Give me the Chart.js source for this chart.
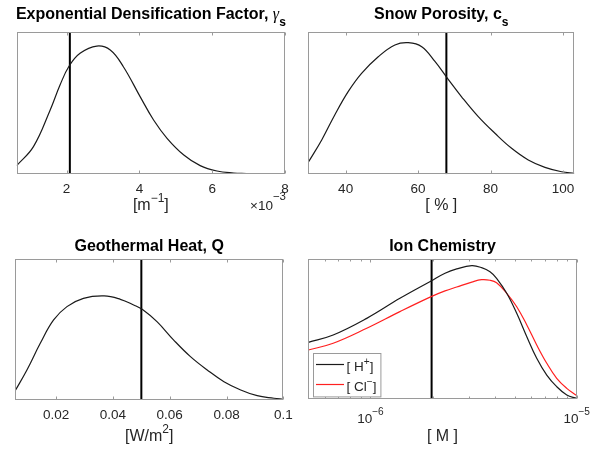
<!DOCTYPE html>
<html><head><meta charset="utf-8">
<script src="https://cdn.jsdelivr.net/npm/chart.js@4.4.1/dist/chart.umd.min.js"></script>
<style>
html,body{margin:0;padding:0;background:#fff;}
#wrap{position:relative;width:591px;height:453px;overflow:hidden;background:#fff;}
canvas{position:absolute;}
</style></head><body>
<div id="wrap">
<canvas id="cA" width="295" height="226" style="left:0px;top:0px;width:295px;height:226px"></canvas>
<canvas id="cB" width="296" height="226" style="left:295px;top:0px;width:296px;height:226px"></canvas>
<canvas id="cC" width="295" height="227" style="left:0px;top:226px;width:295px;height:227px"></canvas>
<canvas id="cD" width="296" height="227" style="left:295px;top:226px;width:296px;height:227px"></canvas>
</div>
<script>
// ---------- data ----------
// Exponential densification factor [m^-1]
const gammaX = [0.00063, 0.00109, 0.00155, 0.00182, 0.00207, 0.00237, 0.00283, 0.00320, 0.00356, 0.00402, 0.00439, 0.00476, 0.00522, 0.00567, 0.00613, 0.00659, 0.00694];
const gammaY = [0.059, 0.193, 0.452, 0.628, 0.762, 0.852, 0.903, 0.875, 0.757, 0.546, 0.381, 0.252, 0.134, 0.059, 0.021, 0.007, 0.003];
const gammaTrue = 0.00209;
const gammaTicks = [0.002, 0.004, 0.006, 0.008];
const gammaTickLabels = ['2', '4', '6', '8'];

// Snow porosity [%]
const porX = [29.7, 33.4, 37.0, 40.7, 44.4, 49.0, 53.6, 57.3, 61.0, 64.7, 67.9, 72.0, 76.6, 81.2, 85.8, 90.4, 95.0, 99.6, 103.1];
const porY = [0.085, 0.242, 0.418, 0.582, 0.711, 0.828, 0.911, 0.927, 0.899, 0.793, 0.683, 0.546, 0.406, 0.289, 0.183, 0.101, 0.049, 0.018, 0.007];
const porTrue = 67.8;
const porTicks = [40, 60, 80, 100];
const porTickLabels = ['40', '60', '80', '100'];

// Geothermal heat [W/m^2]
const qX = [0.0055, 0.0097, 0.0144, 0.0191, 0.0238, 0.0296, 0.0369, 0.0426, 0.0473, 0.0503, 0.0555, 0.0614, 0.0673, 0.0732, 0.0791, 0.0850, 0.0908, 0.0967, 0.1];
const qY = [0.060, 0.210, 0.400, 0.566, 0.661, 0.720, 0.737, 0.713, 0.673, 0.642, 0.554, 0.423, 0.305, 0.210, 0.127, 0.068, 0.027, 0.009, 0.001];
const qTrue = 0.05;
const qTicks = [0.02, 0.04, 0.06, 0.08, 0.1];
const qTickLabels = ['0.02', '0.04', '0.06', '0.08', '0.1'];

// Ion chemistry [M]
const ionX = [5.0e-7, 6.6e-7, 9.6e-7, 1.39e-6, 1.97e-6, 2.30e-6, 2.62e-6, 3.10e-6, 3.46e-6, 3.80e-6, 4.09e-6, 4.58e-6, 5.12e-6, 5.73e-6, 6.40e-6, 7.16e-6, 8.00e-6, 8.95e-6, 1.0e-5];
const hPlusY = [0.405, 0.457, 0.576, 0.719, 0.843, 0.898, 0.929, 0.952, 0.938, 0.909, 0.862, 0.755, 0.612, 0.445, 0.291, 0.171, 0.088, 0.029, 0.004];
const clMinusY = [0.350, 0.398, 0.505, 0.624, 0.731, 0.772, 0.800, 0.835, 0.852, 0.848, 0.830, 0.755, 0.659, 0.529, 0.386, 0.255, 0.148, 0.076, 0.024];
const ionTrue = 1.98e-6;
const ionTicks = [1e-6, 1e-5];
const ionTickLabels = ['10\u207B\u2076', '10\u207B\u2075'];
const ionSeriesNames = ['[ H\u207A]', '[ Cl\u207B]'];

// panel texts
const titles = ['Exponential Densification Factor, \u03B3\u209B', 'Snow Porosity, c\u209B', 'Geothermal Heat, Q', 'Ion Chemistry'];
const xLabels = ['[m\u207B\u00B9]', '[ % ]', '[W/m\u00B2]', '[ M ]'];
const gammaExponent = '\u00D710\u207B\u00B3';

// ---------- styling ----------
const FONT = "'Liberation Sans', Arial, Helvetica, sans-serif";
const AXIS_GRAY = '#9a9a9a';
const TEXT_DARK = '#262626';

// ---------- rich text (super/subscripts drawn as real text) ----------
const SUP_MAP = {'\u207B': '\u2212', '\u207A': '+', '\u00B9': '1', '\u00B2': '2', '\u00B3': '3', '\u2070': '0',
                 '\u2074': '4', '\u2075': '5', '\u2076': '6', '\u2077': '7', '\u2078': '8', '\u2079': '9'};
const SUB_MAP = {'\u209B': 's'};
function parseRich(str) {
  const segs = [];
  for (const ch of str) {
    let mode = 'n', t = ch;
    if (SUP_MAP[ch]) { mode = 'sup'; t = SUP_MAP[ch]; }
    else if (SUB_MAP[ch]) { mode = 'sub'; t = SUB_MAP[ch]; }
    else if (/[\u0370-\u03FF]/.test(ch)) { mode = 'greek'; }
    const last = segs[segs.length - 1];
    if (last && last.mode === mode) last.t += t; else segs.push({mode: mode, t: t});
  }
  return segs;
}
function segFont(s, o) {
  const small = s.mode === 'sup' || s.mode === 'sub';
  const size = small ? o.size * (o.script || 0.75) : o.size;
  if (s.mode === 'greek') return 'italic ' + size + "px 'Liberation Serif', 'DejaVu Serif', serif";
  return (o.weight || 'normal') + ' ' + size + 'px ' + FONT;
}
function richWidth(ctx, str, o) {
  let w = 0;
  parseRich(str).forEach(s => { ctx.font = segFont(s, o); w += ctx.measureText(s.t).width; });
  return w;
}
function drawRich(ctx, str, x, y, o) {
  const segs = parseRich(str);
  ctx.save();
  ctx.textBaseline = 'alphabetic';
  ctx.textAlign = 'left';
  ctx.fillStyle = o.color;
  let total = 0;
  segs.forEach(s => { ctx.font = segFont(s, o); s.w = ctx.measureText(s.t).width; total += s.w; });
  let cx = o.align === 'center' ? x - total / 2 : (o.align === 'right' ? x - total : x);
  segs.forEach(s => {
    ctx.font = segFont(s, o);
    const dy = s.mode === 'sup' ? -o.size * (o.raise || 0.6) : (s.mode === 'sub' ? o.size * 0.4 : 0);
    ctx.fillText(s.t, cx, y + dy);
    cx += s.w;
  });
  ctx.restore();
  return total;
}

const pts = (xs, ys) => xs.map((x, i) => ({x: x, y: ys[i]}));

const matlabAxes = {
  id: 'matlabAxes',
  afterDatasetsDraw(chart, args, opts) {
    const ctx = chart.ctx, a = chart.chartArea, xs = chart.scales.x;
    ctx.save();
    ctx.strokeStyle = AXIS_GRAY;
    ctx.lineWidth = 1;
    ctx.beginPath();
    const L = Math.round(a.left) + 0.5, R = Math.round(a.right) - 0.5;
    const T = Math.round(a.top) + 0.5, B = Math.round(a.bottom) - 0.5;
    const tick = (v, len) => {
      const px = Math.round(xs.getPixelForValue(v)) + 0.5;
      ctx.moveTo(px, B); ctx.lineTo(px, B - len);
      ctx.moveTo(px, T); ctx.lineTo(px, T + len);
    };
    xs.ticks.forEach(t => tick(t.value, 3));
    if (opts && opts.logMinor) {
      const e0 = Math.floor(Math.log10(xs.min)), e1 = Math.ceil(Math.log10(xs.max));
      for (let e = e0; e <= e1; e++) {
        for (let k = 2; k <= 9; k++) {
          const v = k * Math.pow(10, e);
          if (v >= xs.min && v <= xs.max) tick(v, 2);
        }
      }
    }
    ctx.stroke();
    ctx.strokeRect(L, T, R - L, B - T);
    ctx.restore();
  }
};

const panelText = {
  id: 'panelText',
  afterDraw(chart, args, o) {
    if (!o || !o.title) return;
    const ctx = chart.ctx, a = chart.chartArea, cx = (a.left + a.right) / 2;
    drawRich(ctx, o.title, cx, a.top - o.titleOff, {size: 16, weight: 'bold', color: '#000', align: 'center', script: 0.75});
    drawRich(ctx, o.xlabel, cx, a.bottom + o.xlabelOff, {size: 16, color: TEXT_DARK, align: 'center', script: 0.75, raise: 0.5});
    if (o.exponent) {
      drawRich(ctx, o.exponent, a.right + 1, a.bottom + 35.5, {size: 13.5, color: TEXT_DARK, align: 'right', script: 0.85, raise: 0.72});
    }
    if (o.richTicks) {
      const xs = chart.scales.x;
      xs.ticks.forEach((t, i) => drawRich(ctx, o.richTicks[i], xs.getPixelForValue(t.value), a.bottom + o.tickBase,
        {size: 13.5, color: TEXT_DARK, align: 'center', script: 0.75, raise: 0.6}));
    }
  }
};

const boxLegend = {
  id: 'boxLegend',
  afterDraw(chart, args, opts) {
    if (!opts || !opts.show) return;
    const ctx = chart.ctx, a = chart.chartArea;
    const items = chart.data.datasets.filter(d => d.inLegend);
    ctx.save();
    const to = {size: 13.5, color: TEXT_DARK, align: 'left', script: 0.75, raise: 0.45};
    let tw = 0;
    items.forEach(d => { tw = Math.max(tw, richWidth(ctx, d.label, to)); });
    const w = 32.5 + tw + 5, h = 43.4;
    const x0 = Math.round(a.left + 4.4) + 0.5, y0 = Math.round(a.bottom - 2.3 - h) + 0.5;
    ctx.fillStyle = '#fff';
    ctx.fillRect(x0, y0, w, h);
    ctx.strokeStyle = AXIS_GRAY;
    ctx.lineWidth = 1;
    ctx.strokeRect(x0, y0, w, h);
    items.forEach((d, i) => {
      const cy = y0 + 11 + i * 20;
      ctx.strokeStyle = d.borderColor;
      ctx.lineWidth = d.borderWidth;
      ctx.beginPath();
      ctx.moveTo(x0 + 2.5, cy); ctx.lineTo(x0 + 30.5, cy);
      ctx.stroke();
      drawRich(ctx, d.label, x0 + 33, cy + 6.3, to);
    });
    ctx.restore();
  }
};

function curve(xs, ys, color, label, inLegend) {
  return {label: label, data: pts(xs, ys), borderColor: color, borderWidth: 1.2,
          pointRadius: 0, fill: false, tension: 0.4, inLegend: !!inLegend};
}
function vline(v) {
  return {label: 'true value', data: [{x: v, y: 0}, {x: v, y: 1}], borderColor: '#000',
          borderWidth: 2, pointRadius: 0, fill: false, tension: 0};
}

function makeChart(id, cfg) {
  const xScale = {
    type: cfg.xType || 'linear',
    min: cfg.xMin, max: cfg.xMax,
    afterBuildTicks: s => { s.ticks = cfg.ticks.map(v => ({value: v})); },
    afterFit: s => { s.height = cfg.xHeight; s.paddingLeft = 0; s.paddingRight = 0; },
    grid: {display: false, drawTicks: false},
    border: {display: false},
    ticks: {
      display: !cfg.richTicks,
      autoSkip: false, maxRotation: 0, minRotation: 0,
      padding: cfg.tickPad, color: TEXT_DARK,
      font: {family: FONT, size: 13.5},
      callback: (v, i) => cfg.tickLabels[i]
    },
    title: {display: false}
  };
  return new Chart(document.getElementById(id), {
    type: 'line',
    data: {datasets: cfg.datasets},
    options: {
      responsive: false, animation: false, devicePixelRatio: 1,
      layout: {padding: {left: cfg.padL, right: cfg.padR, top: cfg.padT, bottom: 0}},
      scales: {
        x: xScale,
        y: {display: false, min: 0, max: 1}
      },
      plugins: {
        legend: {display: false},
        tooltip: {enabled: false},
        title: {display: false},
        matlabAxes: {logMinor: cfg.xType === 'logarithmic'},
        panelText: {title: cfg.title, xlabel: cfg.xTitle, titleOff: cfg.titleOff, xlabelOff: cfg.xlabelOff,
                    exponent: cfg.exponent || null, richTicks: cfg.richTicks || null, tickBase: cfg.tickBase || 0},
        boxLegend: {show: !!cfg.legend}
      }
    },
    plugins: [matlabAxes, panelText, boxLegend]
  });
}

makeChart('cA', {
  title: titles[0], xTitle: xLabels[0],
  xMin: 0.00063, xMax: 0.008, ticks: gammaTicks, tickLabels: gammaTickLabels,
  padL: 16.7, padR: 10, padT: 32.3,
  xHeight: 52, tickPad: 7.2, titleOff: 13, xlabelOff: 36.3,
  exponent: gammaExponent,
  datasets: [curve(gammaX, gammaY, '#1a1a1a', 'density'), vline(gammaTrue)]
});

makeChart('cB', {
  title: titles[1], xTitle: xLabels[1],
  xMin: 29.7, xMax: 103.1, ticks: porTicks, tickLabels: porTickLabels,
  padL: 13.3, padR: 16.7, padT: 32.3,
  xHeight: 51.7, tickPad: 6.9, titleOff: 13, xlabelOff: 36,
  datasets: [curve(porX, porY, '#1a1a1a', 'density'), vline(porTrue)]
});

makeChart('cC', {
  title: titles[2], xTitle: xLabels[2],
  xMin: 0.0055, xMax: 0.1, ticks: qTicks, tickLabels: qTickLabels,
  padL: 15, padR: 11.7, padT: 33,
  xHeight: 53.5, tickPad: 7.9, titleOff: 8.5, xlabelOff: 41.5,
  datasets: [curve(qX, qY, '#1a1a1a', 'density'), vline(qTrue)]
});

makeChart('cD', {
  title: titles[3], xTitle: xLabels[3],
  xType: 'logarithmic',
  xMin: 5e-7, xMax: 1e-5, ticks: ionTicks, tickLabels: ionTickLabels, richTicks: ionTickLabels, tickBase: 24,
  padL: 13.3, padR: 14.3, padT: 33,
  xHeight: 54, tickPad: 10.4, titleOff: 8, xlabelOff: 42,
  legend: true,
  datasets: [curve(ionX, hPlusY, '#1a1a1a', ionSeriesNames[0], true),
             curve(ionX, clMinusY, '#ff2020', ionSeriesNames[1], true),
             vline(ionTrue)]
});
</script>
</body></html>
